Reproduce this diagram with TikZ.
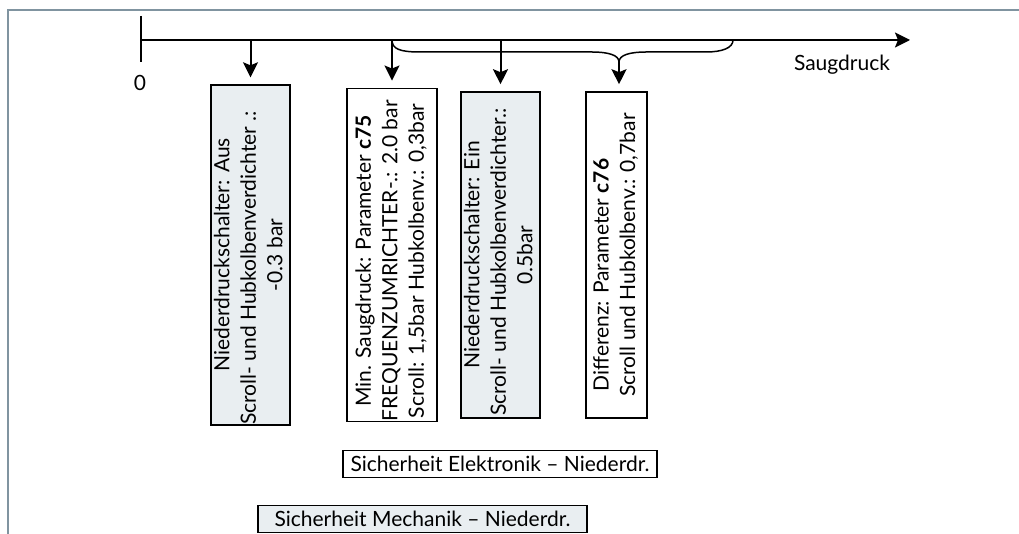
\documentclass[tikz,border=0pt]{standalone}
\usepackage{fontspec}
\setmainfont{Lato}
\usetikzlibrary{arrows.meta,calc}
\definecolor{framec}{RGB}{128,148,160}
\definecolor{boxgray}{RGB}{233,238,241}
\begin{document}
\begin{tikzpicture}[x=1pt,y=-1pt, font=\fontsize{21}{26.5}\selectfont,
  boxg/.style={draw, line width=1.6pt, fill=boxgray, inner sep=0pt, minimum height=326pt},
  boxw/.style={draw, line width=1.6pt, fill=white, inner sep=0pt, minimum height=326pt},
  tip/.style={-{Stealth[length=15pt,width=15pt,inset=3pt]}},
  arr/.style={tip, line width=2pt, shorten >=7pt},
  axisline/.style={line width=2pt},
  bar/.style={draw, line width=1.6pt, inner sep=0pt}]
\useasboundingbox (0,0) rectangle (1019,534);
\draw[framec, line width=1.2pt] (8,534) -- (8,10) -- (1019,10);

\coordinate (o) at (141,40);
\coordinate (axend) at (910,40);
\coordinate (t1) at (141,16);
\coordinate (t2) at (141,62);
\draw[axisline, tip] (o) -- (axend);
\draw[axisline] (t1) -- (t2);
\node (zero) at (140,83) {0};
\node (saug) at (842,65) {Saugdruck};

\node[boxg, minimum width=79pt] (b1) at (250.5,255) {\rotatebox{90}{\begin{tabular}{@{}c@{}}Niederdruckschalter: Aus\\ Scroll- und Hubkolbenverdichter .:\hspace*{26pt}\\ -0.3 bar\end{tabular}}};
\node[boxw, minimum width=90pt] (b2) at (392,255) {\rotatebox{90}{\begin{tabular}{@{}c@{}}Min. Saugdruck: Parameter \textbf{c75}\hspace*{12pt}\\ FREQUENZUMRICHTER-.: 2.0 bar\hspace*{12pt}\\ Scroll: 1,5bar Hubkolbenv.: 0,3bar\hspace*{12pt}\end{tabular}}};
\node[boxg, minimum width=79pt] (b3) at (500.5,255) {\rotatebox{90}{\begin{tabular}{@{}c@{}}Niederdruckschalter: Ein\\ Scroll- und Hubkolbenverdichter.:\hspace*{14pt}\\ 0.5bar\end{tabular}}};
\node[boxw, minimum width=61pt] (b4) at (616.5,255) {\rotatebox{90}{\begin{tabular}{@{}c@{}}Differenz: Parameter \textbf{c76}\hspace*{40pt}\\ Scroll und Hubkolbenv.: 0,7bar\end{tabular}}};

\coordinate (p1) at (b1.north |- o);
\coordinate (p2) at (b2.north |- o);
\coordinate (p3) at (b3.north |- o);
\coordinate (br) at (733,40);
\coordinate (bt) at (619,62);
\draw[arr] (p1) -- (b1.north);
\draw[arr] (p2) -- (b2.north);
\draw[arr] (p3) -- (b3.north);
\draw[line width=1.5pt] (p2) .. controls (392,49) and (400,52) .. (420,52) -- (592,52)
  .. controls (608,52) and (619,55) .. (bt)
  .. controls (619,55) and (630,52) .. (646,52) -- (706,52)
  .. controls (722,52) and (733,48) .. (br);
\draw[arr] (bt) -- (bt |- b4.north);

\node[bar, fill=white, minimum width=314pt, minimum height=27pt] (se) at (500,464) {Sicherheit Elektronik -- Niederdr.};
\node[bar, fill=boxgray, minimum width=329pt, minimum height=27pt] (sm) at (422.5,519) {Sicherheit Mechanik -- Niederdr.};
\end{tikzpicture}
\end{document}
